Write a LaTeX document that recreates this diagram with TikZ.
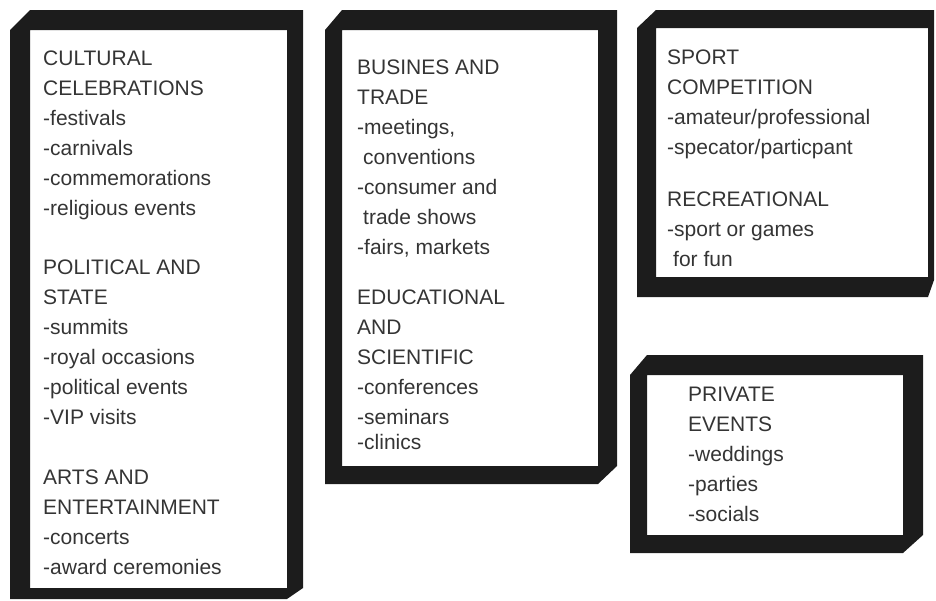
\documentclass[tikz,border=0pt]{standalone}
\usepackage{fontspec}
\setmainfont{Liberation Sans}
\usepackage{tikz}
\definecolor{framecol}{RGB}{28,28,28}
\definecolor{evtext}{RGB}{52,52,52}

\begin{document}
\begin{tikzpicture}[x=1pt,y=-1pt,
		frame/.style={fill=framecol,even odd rule},
		evlist/.style={anchor=north west,inner sep=0pt,align=left,text=evtext,font=\fontsize{21}{30}\selectfont}]
			\useasboundingbox (0,0) rectangle (936,600);
			\coordinate (culturaltext) at (43,51);
			\coordinate (businesstext) at (357,60);
			\coordinate (sporttext) at (667,50);
			\coordinate (privatetext) at (688,387);
			
			% thick frames, corners cut at top left and bottom right
			\fill[frame] (10,30) -- (30,10) -- (303,10) -- (303,588) -- (287,599) -- (10,599) -- cycle (30,30) rectangle (287,588);
			\fill[frame] (325,30) -- (342,10) -- (617,10) -- (617,466) -- (598,484) -- (325,484) -- cycle (342,30) rectangle (598,466);
			\fill[frame] (637,28) -- (656,10) -- (934,10) -- (934,280) -- (928,297) -- (637,297) -- cycle (656,28) rectangle (928,277);
			\fill[frame] (630,375) -- (647,355) -- (923,355) -- (923,535) -- (903,553) -- (630,553) -- cycle (647,375) rectangle (903,535);
			
			\node[evlist] (cultural) at (culturaltext) {CULTURAL\\CELEBRATIONS\\-festivals\\-carnivals\\-commemorations\\-religious events\\[29pt]POLITICAL AND\\STATE\\-summits\\-royal occasions\\-political events\\-VIP visits\\[30pt]ARTS AND\\ENTERTAINMENT\\-concerts\\-award ceremonies};
			\node[evlist] (business) at (businesstext) {BUSINES AND\\TRADE\\-meetings,\\\hspace{6pt}conventions\\-consumer and\\\hspace{6pt}trade shows\\-fairs, markets\\[20pt]EDUCATIONAL\\AND\\SCIENTIFIC\\-conferences\\-seminars\\[-5pt]-clinics};
			\node[evlist] (sport) at (sporttext) {SPORT\\COMPETITION\\-amateur/professional\\-specator/particpant\\[22pt]RECREATIONAL\\-sport or games\\\hspace{6pt}for fun};
			\node[evlist] (private) at (privatetext) {PRIVATE\\EVENTS\\-weddings\\-parties\\-socials};
		\end{tikzpicture}
\end{document}
